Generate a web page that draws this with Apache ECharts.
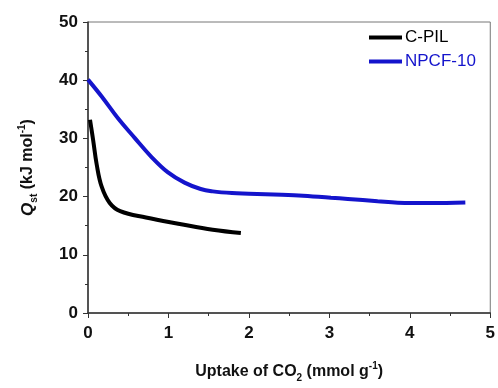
<!DOCTYPE html>
<html>
<head>
<meta charset="UTF-8">
<title>Qst vs CO2 uptake</title>
<script src="https://cdn.jsdelivr.net/npm/echarts@6/dist/echarts.min.js"></script>
<style>
  html, body { margin: 0; padding: 0; background: #fff; }
</style>
</head>
<body>
<div id="main" style="width: 498px;height:388px;"></div>
<script type="text/javascript">
// values
var cpilX = [0.025, 0.065, 0.107, 0.17, 0.27, 0.40, 0.72, 1.14, 1.55, 1.90];
var cpilY = [33.2, 29.6, 25.6, 21.7, 18.9, 17.5, 16.4, 15.3, 14.3, 13.75];
var npcfX = [0.0, 0.17, 0.37, 0.58, 0.79, 0.99, 1.20, 1.40, 1.55, 1.79, 2.0, 2.41, 2.62, 3.02, 3.23, 3.6, 3.85, 4.26, 4.69];
var npcfY = [40.1, 37.2, 33.5, 30.1, 26.8, 24.2, 22.4, 21.3, 20.9, 20.6, 20.5, 20.3, 20.2, 19.8, 19.6, 19.2, 18.95, 18.9, 19.0];
var seriesNames = ['C-PIL', 'NPCF-10'];
var xTicks = [0, 1, 2, 3, 4, 5];

function pairs(xs, ys) {
    return xs.map(function (x, i) { return [x, ys[i]]; });
}

var font = 'Arial, "Liberation Sans", sans-serif';
var blue = '#1414cc';

var myChart = echarts.init(document.getElementById('main'));

myChart.setOption({
    animation: false,
    grid: {
        left: 88, right: 6, top: 22, bottom: 69,
        show: true, borderColor: '#777', borderWidth: 1
    },
    legend: {
        orient: 'vertical',
        left: 364, top: 24,
        icon: 'rect',
        itemWidth: 33, itemHeight: 4,
        itemGap: 7,
        textStyle: { fontFamily: font, fontSize: 17, padding: [0, 0, 0, -2] },
        data: [
            { name: seriesNames[0], textStyle: { color: '#000' } },
            { name: seriesNames[1], textStyle: { color: blue } }
        ]
    },
    xAxis: {
        type: 'value',
        min: 0, max: 5, interval: 1,
        name: '{b|Uptake of CO}{sub|2}{b| (mmol g}{sup|-1}{b|)}',
        nameLocation: 'middle',
        nameGap: 48,
        nameTextStyle: {
            rich: {
                b: { fontFamily: font, fontSize: 16, fontWeight: 'bold', color: '#111', lineHeight: 22, verticalAlign: 'middle' },
                sub: { fontFamily: font, fontSize: 10, fontWeight: 'bold', color: '#111', lineHeight: 10, verticalAlign: 'bottom' },
                sup: { fontFamily: font, fontSize: 10, fontWeight: 'bold', color: '#111', lineHeight: 10, verticalAlign: 'top' }
            }
        },
        axisLine: { lineStyle: { color: '#333', width: 1.5 } },
        axisTick: { length: 5, lineStyle: { color: '#333' } },
        minorTick: { show: true, splitNumber: 2, length: 3, lineStyle: { color: '#333' } },
        splitLine: { show: false },
        axisLabel: {
            margin: 12,
            fontFamily: font, fontSize: 17, fontWeight: 'bold', color: '#111',
            formatter: function (v) { return xTicks.indexOf(v) >= 0 ? String(v) : ''; }
        }
    },
    yAxis: {
        type: 'value',
        min: 0, max: 50, interval: 10,
        name: '{q|Q}{sub|st}{b| (kJ mol}{sup|-1}{b|)}',
        nameLocation: 'middle',
        nameGap: 49,
        nameTextStyle: {
            rich: {
                q: { fontFamily: font, fontSize: 17, fontWeight: 'bold', fontStyle: 'italic', color: '#111', lineHeight: 22, verticalAlign: 'middle' },
                b: { fontFamily: font, fontSize: 16, fontWeight: 'bold', color: '#111', lineHeight: 22, verticalAlign: 'middle' },
                sub: { fontFamily: font, fontSize: 10, fontWeight: 'bold', color: '#111', lineHeight: 10, verticalAlign: 'bottom' },
                sup: { fontFamily: font, fontSize: 10, fontWeight: 'bold', color: '#111', lineHeight: 10, verticalAlign: 'top' }
            }
        },
        axisLine: { show: true, lineStyle: { color: '#333', width: 1.5 } },
        axisTick: { show: true, length: 5, lineStyle: { color: '#333' } },
        minorTick: { show: true, splitNumber: 2, length: 3, lineStyle: { color: '#333' } },
        splitLine: { show: false },
        axisLabel: {
            margin: 10,
            fontFamily: font, fontSize: 17, fontWeight: 'bold', color: '#111'
        }
    },
    series: [
        {
            name: seriesNames[0],
            type: 'line',
            smooth: 0.4,
            showSymbol: false,
            color: '#000',
            lineStyle: { width: 4, color: '#000' },
            data: pairs(cpilX, cpilY)
        },
        {
            name: seriesNames[1],
            type: 'line',
            smooth: 0.4,
            showSymbol: false,
            color: blue,
            lineStyle: { width: 4, color: blue },
            data: pairs(npcfX, npcfY)
        }
    ]
});
</script>
</body>
</html>
